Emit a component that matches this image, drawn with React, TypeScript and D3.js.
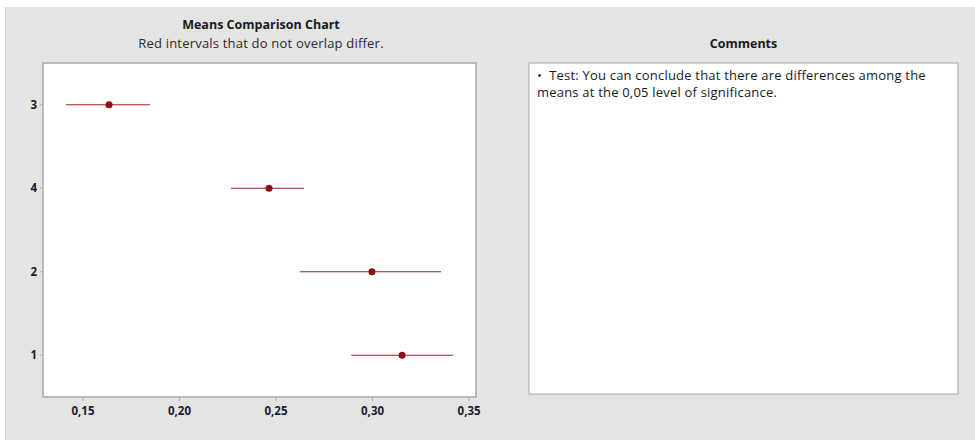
import * as d3 from "d3";

// Groups in display order (top to bottom)
const groups = ["3", "4", "2", "1"];
const means = [0.1635, 0.2464, 0.2997, 0.3153];
const lowers = [0.1412, 0.2267, 0.2624, 0.289];
const uppers = [0.1847, 0.2645, 0.3355, 0.3418];
const xTicks = [0.15, 0.2, 0.25, 0.3, 0.35];

const title = "Means Comparison Chart";
const subtitle = "Red intervals that do not overlap differ.";
const commentsTitle = "Comments";
const commentLines = [
  "\u2022  Test: You can conclude that there are differences among the",
  "means at the 0,05 level of significance.",
];

const font = "'Open Sans', 'Noto Sans', sans-serif";

export default function App() {
  const width = 975,
    height = 440;
  const plot = { left: 43, right: 476, top: 63, bottom: 397 };

  const x = d3.scaleLinear().domain([0.1293, 0.3536]).range([plot.left, plot.right]);
  const y = d3.scalePoint<string>().domain(groups).range([plot.top, plot.bottom]).padding(0.5);
  const fmt = (v: number) => d3.format(".2f")(v).replace(".", ",");

  const box = { left: 529, right: 958, top: 63, bottom: 394 };

  return (
    <svg
      width={width}
      height={height}
      style={{ position: "absolute", left: 0, top: 0, fontFamily: font }}
    >
      <rect x={0} y={0} width={width} height={height} fill="#ffffff" />
      <rect x={5} y={7} width={width - 5} height={height - 7} fill="#e4e4e4" />
      <line x1={5.5} x2={5.5} y1={7} y2={height} stroke="#d4d4d4" />

      {/* titles */}
      <text x={261} y={29} textAnchor="middle" fontSize={12.5} fontWeight={700} fill="#1a1a1a">
        {title}
      </text>
      <text x={261} y={47.5} textAnchor="middle" fontSize={13} letterSpacing={0.2} fill="#2a2a2a">
        {subtitle}
      </text>

      {/* plot area */}
      <rect
        x={plot.left}
        y={plot.top}
        width={plot.right - plot.left}
        height={plot.bottom - plot.top}
        fill="#ffffff"
        stroke="#a8a8a8"
        strokeWidth={1.5}
      />

      {/* y axis */}
      {groups.map((g) => (
        <g key={g} transform={`translate(0,${y(g)})`}>
          <line x1={plot.left - 3} x2={plot.left} stroke="#b0b0b0" />
          <text x={plot.left - 6} dy="0.35em" textAnchor="end" fontSize={11.5} fontWeight={700} fill="#1c1c2c">
            {g}
          </text>
        </g>
      ))}

      {/* x axis */}
      {xTicks.map((t) => (
        <g key={t} transform={`translate(${x(t)},${plot.bottom})`}>
          <line y1={0} y2={4} stroke="#a8a8a8" />
          <text y={18} textAnchor="middle" fontSize={11.5} fontWeight={700} fill="#1c1c2c">
            {fmt(t)}
          </text>
        </g>
      ))}

      {/* intervals */}
      {groups.map((g, i) => (
        <g key={"int" + g}>
          <line
            x1={x(lowers[i])}
            x2={x(uppers[i])}
            y1={y(g)}
            y2={y(g)}
            stroke="#a52020"
            strokeWidth={1.2}
          />
          <circle cx={x(means[i])} cy={y(g)} r={3.5} fill="#8e1010" />
        </g>
      ))}

      {/* comments */}
      <text x={(box.left + box.right) / 2} y={48} textAnchor="middle" fontSize={12.5} fontWeight={700} fill="#1a1a1a">
        {commentsTitle}
      </text>
      <rect
        x={box.left}
        y={box.top}
        width={box.right - box.left}
        height={box.bottom - box.top}
        fill="#ffffff"
        stroke="#a8a8a8"
        strokeWidth={1}
      />
      {commentLines.map((l, i) => (
        <text
          key={i}
          x={box.left + 8}
          y={80 + i * 17}
          fontSize={13}
          letterSpacing={0.2}
          fill="#1a1a1a"
          xmlSpace="preserve"
        >
          {l}
        </text>
      ))}
    </svg>
  );
}
